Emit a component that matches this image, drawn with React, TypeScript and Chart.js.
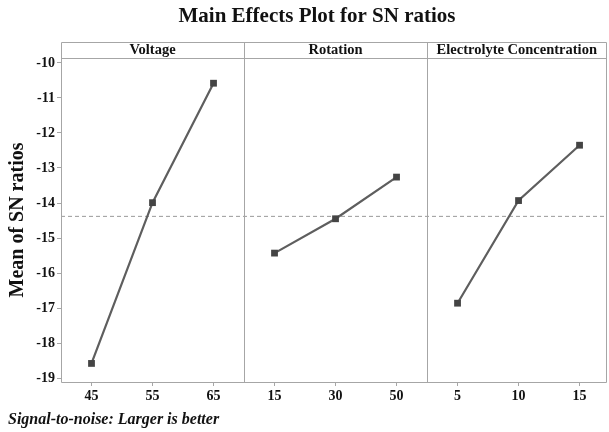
import React, { useEffect, useRef } from "react";
import { Chart, registerables } from "chart.js";

Chart.register(...registerables);

const factors = ["Voltage", "Rotation", "Electrolyte Concentration"];
const voltageLevels = ["45", "55", "65"];
const rotationLevels = ["15", "30", "50"];
const electrolyteLevels = ["5", "10", "15"];
const voltageSN = [-18.58, -13.99, -10.58];
const rotationSN = [-15.43, -14.45, -13.26];
const electrolyteSN = [-16.86, -13.93, -12.35];
const yTicks = [-19, -18, -17, -16, -15, -14, -13, -12, -11, -10];
const xAxisMax = 8.95;

const levels = [voltageLevels, rotationLevels, electrolyteLevels];
const values = [voltageSN, rotationSN, electrolyteSN];
const allVals = values.flat();
const grandMean = allVals.reduce((a, b) => a + b, 0) / allVals.length;

const SERIF = "'Liberation Serif', 'DejaVu Serif', serif";
const FRAME = "#a6a6a6";

const panelPlugin = {
  id: "panelPlugin",
  afterDraw(chart: any) {
    const { ctx, chartArea, scales } = chart;
    const x = scales.x;
    const headerTop = chartArea.top - 16;
    const rightEdge = chartArea.right - 0.5;
    ctx.save();
    ctx.strokeStyle = FRAME;
    ctx.lineWidth = 1;
    ctx.beginPath();
    ctx.moveTo(chartArea.left + 0.5, headerTop + 0.5);
    ctx.lineTo(rightEdge, headerTop + 0.5);
    ctx.lineTo(rightEdge, chartArea.bottom + 0.5);
    ctx.lineTo(chartArea.left + 0.5, chartArea.bottom + 0.5);
    ctx.closePath();
    ctx.stroke();
    ctx.beginPath();
    ctx.moveTo(chartArea.left, chartArea.top + 0.5);
    ctx.lineTo(rightEdge, chartArea.top + 0.5);
    ctx.stroke();
    for (let i = 1; i < factors.length; i++) {
      const px = Math.round(x.getPixelForValue(i * 3)) + 0.5;
      ctx.beginPath();
      ctx.moveTo(px, headerTop);
      ctx.lineTo(px, chartArea.bottom);
      ctx.stroke();
    }
    ctx.fillStyle = "#111";
    ctx.font = "bold 14.5px " + SERIF;
    ctx.textAlign = "center";
    ctx.textBaseline = "middle";
    factors.forEach((f, i) => {
      const l = x.getPixelForValue(i * 3);
      const r = Math.min(x.getPixelForValue(i * 3 + 3), rightEdge);
      ctx.fillText(f, (l + r) / 2, headerTop + 8.5);
    });
    ctx.font = "bold 21px " + SERIF;
    ctx.fillText("Main Effects Plot for SN ratios", 317, 17);
    ctx.font = "italic bold 16px " + SERIF;
    ctx.textAlign = "left";
    ctx.fillText("Signal-to-noise: Larger is better", 8, 420);
    ctx.restore();
  },
};

export default function App() {
  const ref = useRef<HTMLCanvasElement>(null);
  useEffect(() => {
    document.body.style.margin = "0";
    const datasets: any[] = values.map((vals, fi) => ({
      label: factors[fi],
      data: vals.map((v, i) => ({ x: fi * 3 + i + 0.5, y: v })),
      borderColor: "#5e5e5e",
      borderWidth: 2.2,
      pointStyle: "rect",
      pointRadius: 4.8,
      pointBackgroundColor: "#444",
      pointBorderColor: "#444",
      pointBorderWidth: 0,
      showLine: true,
    }));
    datasets.push({
      label: "mean",
      data: [
        { x: 0, y: grandMean },
        { x: xAxisMax, y: grandMean },
      ],
      borderColor: "#9a9a9a",
      borderWidth: 1,
      borderDash: [4, 3],
      pointRadius: 0,
      showLine: true,
    });
    const chart = new Chart(ref.current!, {
      type: "scatter",
      data: { datasets },
      options: {
        animation: false,
        responsive: false,
        layout: { autoPadding: false, padding: { top: 58, left: 0, right: 2, bottom: 26 } },
        plugins: { legend: { display: false }, tooltip: { enabled: false } },
        scales: {
          x: {
            type: "linear",
            min: 0,
            max: xAxisMax,
            afterBuildTicks: (s: any) => {
              const t: any[] = [];
              levels.forEach((lv, fi) => lv.forEach((_, i) => t.push({ value: fi * 3 + i + 0.5 })));
              s.ticks = t;
            },
            afterFit: (s: any) => {
              s.height = 24;
            },
            ticks: {
              autoSkip: false,
              maxRotation: 0,
              color: "#111",
              padding: 2,
              font: { family: SERIF, size: 14, weight: "bold" },
              callback: (v: any) => {
                const fi = Math.floor(v / 3);
                const i = Math.floor(v - fi * 3);
                return levels[fi] ? levels[fi][i] : "";
              },
            },
            grid: { drawOnChartArea: false, tickLength: 4, color: FRAME },
            border: { display: false },
          },
          y: {
            min: -19.11,
            max: -9.86,
            afterBuildTicks: (s: any) => {
              s.ticks = yTicks.map((v) => ({ value: v }));
            },
            afterFit: (s: any) => {
              s.width = 61;
            },
            ticks: {
              color: "#111",
              padding: 2,
              font: { family: SERIF, size: 14, weight: "bold" },
            },
            grid: { drawOnChartArea: false, tickLength: 4, color: FRAME },
            border: { display: false },
            title: {
              display: true,
              text: "Mean of SN ratios",
              color: "#111",
              padding: { top: 6, bottom: 0 },
              font: { family: SERIF, size: 20, weight: "bold" },
            },
          },
        },
      },
      plugins: [panelPlugin],
    });
    return () => chart.destroy();
  }, []);
  return (
    <div style={{ width: 609, height: 432, background: "#fff" }}>
      <canvas ref={ref} width={609} height={432} style={{ display: "block" }} />
    </div>
  );
}
